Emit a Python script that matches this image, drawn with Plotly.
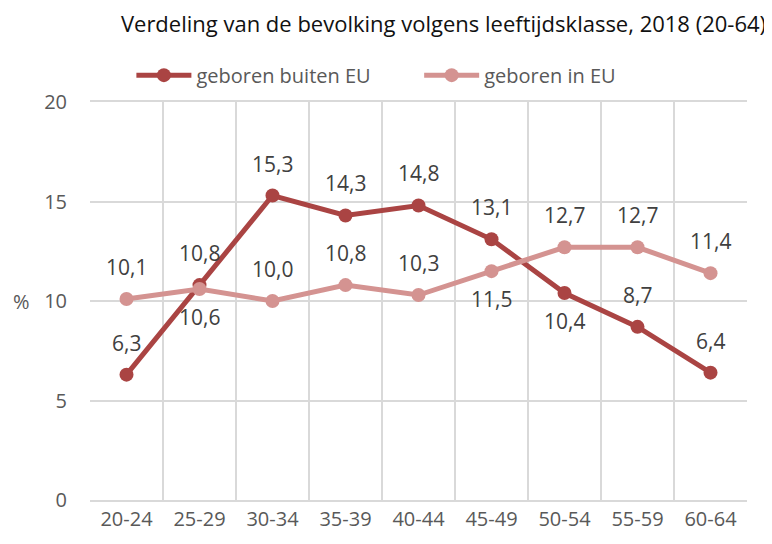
import plotly.graph_objects as go

categories = ["20-24", "25-29", "30-34", "35-39", "40-44", "45-49", "50-54", "55-59", "60-64"]
buiten_eu = [6.3, 10.8, 15.3, 14.3, 14.8, 13.1, 10.4, 8.7, 6.4]
in_eu = [10.1, 10.6, 10.0, 10.8, 10.3, 11.5, 12.7, 12.7, 11.4]
y_ticks = [0, 5, 10, 15, 20]

# label placement (style): +1 above, -1 below
buiten_pos = [1, 1, 1, 1, 1, 1, -1, 1, 1]
in_pos = [1, -1, 1, 1, 1, -1, 1, 1, 1]

dark = "#AA4443"
light = "#D49391"
txt = "#595959"
FONT = "Open Sans"

fig = go.Figure()
fig.add_trace(go.Scatter(x=categories, y=buiten_eu, name="geboren buiten EU", mode="lines+markers",
                         line=dict(color=dark, width=5), marker=dict(size=14, color=dark),
                         legend="legend"))
fig.add_trace(go.Scatter(x=categories, y=in_eu, name="geboren in EU", mode="lines+markers",
                         line=dict(color=light, width=5), marker=dict(size=14, color=light),
                         legend="legend2"))

def fmt(v):
    return f"{v:.1f}".replace(".", ",")

anns = []
for vals, pos in ((buiten_eu, buiten_pos), (in_eu, in_pos)):
    for c, v, p in zip(categories, vals, pos):
        anns.append(dict(x=c, y=v, xref="x", yref="y", text=fmt(v), showarrow=False,
                         yshift=32 if p > 0 else -28, font=dict(size=21, color="#404040", family=FONT)))
anns.append(dict(x=-0.105, y=10, xref="paper", yref="y", xanchor="center", text="%", showarrow=False,
                 font=dict(size=20, color=txt, family=FONT)))

legfont = dict(size=20, color=txt, family=FONT)
fig.update_layout(
    width=764, height=536,
    margin=dict(l=82, r=25, t=94, b=42),
    paper_bgcolor="white", plot_bgcolor="white",
    font=dict(family=FONT, color=txt, size=20),
    title=dict(text="Verdeling van de bevolking volgens leeftijdsklasse, 2018 (20-64)",
               x=0.57, xanchor="center", y=0.9701, yanchor="middle",
               font=dict(size=22, color="#111111", family=FONT)),
    legend=dict(orientation="h", x=0.063, xanchor="left", y=1.0675, yanchor="middle",
                font=legfont, itemwidth=55),
    legend2=dict(orientation="h", x=0.501, xanchor="left", y=1.0675, yanchor="middle",
                 font=legfont, itemwidth=55),
    showlegend=True,
    annotations=anns,
)
fig.update_xaxes(type="category", range=[-0.5, 8.5], tickson="boundaries", showgrid=True,
                 gridcolor="#D9D9D9", gridwidth=1.5, ticks="", showline=True, linecolor="#D9D9D9",
                 linewidth=1.5, mirror=True, tickfont=dict(size=20, color=txt), ticklabelstandoff=0)
fig.update_yaxes(range=[0, 20], tickvals=y_ticks, showgrid=True, gridcolor="#D9D9D9", gridwidth=1.5,
                 zeroline=False, ticks="", tickfont=dict(size=20, color=txt), ticklabelstandoff=22,
                 showline=False)

fig.write_html("out.html")
